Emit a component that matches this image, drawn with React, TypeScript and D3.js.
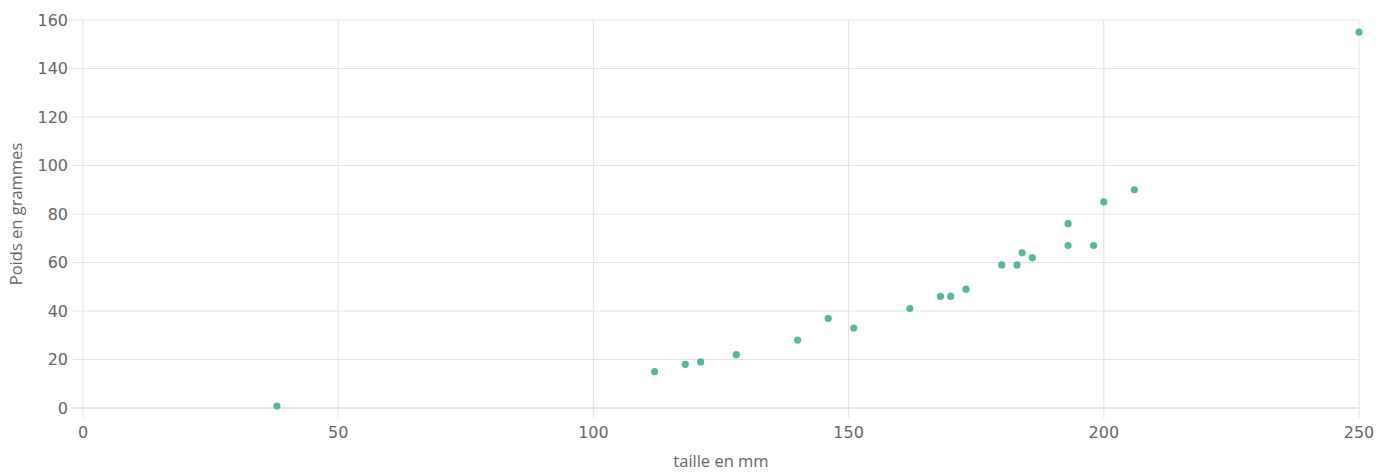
import React from "react";
import * as d3 from "d3";

const tailles = [38, 112, 118, 121, 128, 140, 146, 151, 162, 168, 170, 173, 180, 183, 184, 186, 193, 193, 198, 200, 206, 250];
const poids = [0.8, 15, 18, 19, 22, 28, 37, 33, 41, 46, 46, 49, 59, 59, 64, 62, 76, 67, 67, 85, 90, 155];
const xTicks = [0, 50, 100, 150, 200, 250];
const yTicks = [0, 20, 40, 60, 80, 100, 120, 140, 160];
const xTitle = "taille en mm";
const yTitle = "Poids en grammes";

const W = 1393;
const H = 472;
const M = { left: 83, right: 34, top: 20, bottom: 64 };

export default function App() {
  const x = d3.scaleLinear().domain([0, 250]).range([M.left, W - M.right]);
  const y = d3.scaleLinear().domain([0, 160]).range([H - M.bottom, M.top]);
  const grid = "#e2e2e2";
  const txt = "#666666";
  const font = "'DejaVu Sans', sans-serif";
  const tfont = "'Open Sans', sans-serif";
  return (
    <svg width={W} height={H} style={{ position: "absolute", left: 0, top: 0 }}>
      <rect width={W} height={H} fill="#fff" />
      {yTicks.map((t) => (
        <g key={"y" + t}>
          <line x1={M.left - 10} x2={W - M.right} y1={y(t)} y2={y(t)} stroke={t === 0 ? "#cccccc" : grid} strokeWidth={1} />
          <text x={M.left - 15} y={y(t)} dy="0.35em" textAnchor="end" fontSize={16} fill={txt} fontFamily={font}>{t}</text>
        </g>
      ))}
      {xTicks.map((t) => (
        <g key={"x" + t}>
          <line x1={x(t)} x2={x(t)} y1={M.top} y2={H - M.bottom + 10} stroke={grid} strokeWidth={1} />
          <text x={x(t)} y={H - M.bottom + 30} textAnchor="middle" fontSize={16} fill={txt} fontFamily={font}>{t}</text>
        </g>
      ))}
      <text x={(M.left + W - M.right) / 2} y={467} textAnchor="middle" fontSize={16.5} fill={txt} fontFamily={tfont}>{xTitle}</text>
      <text transform={`translate(22, ${(M.top + H - M.bottom) / 2}) rotate(-90)`} textAnchor="middle" fontSize={16.5} fill={txt} fontFamily={tfont}>{yTitle}</text>
      {tailles.map((t, i) => (
        <circle key={i} cx={x(t)} cy={y(poids[i])} r={3.6} fill="#55b6a4" />
      ))}
    </svg>
  );
}
